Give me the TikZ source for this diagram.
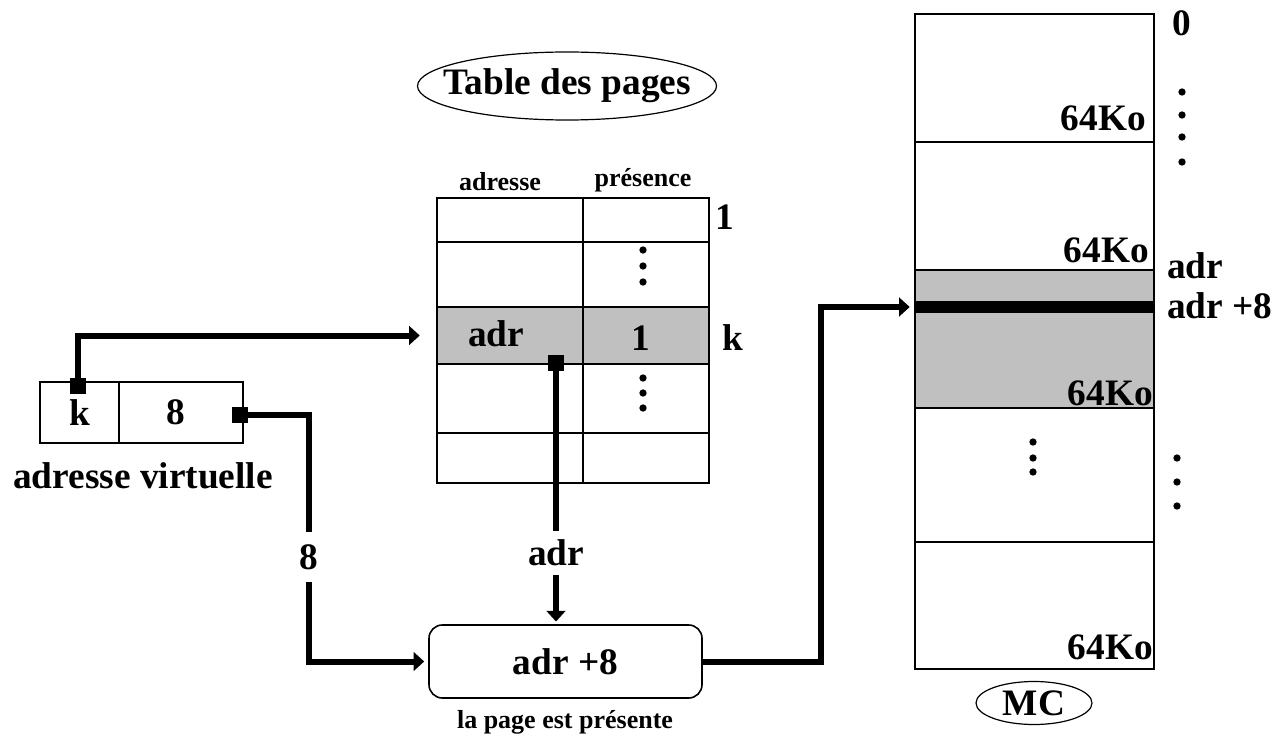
\documentclass[tikz,border=0pt]{standalone}
\usepackage{fontspec}
\setmainfont{Liberation Serif}
\usetikzlibrary{arrows.meta,shapes.geometric,calc}
\definecolor{mygray}{RGB}{192,192,192}
\begin{document}
\begin{tikzpicture}[x=0.75pt,y=-0.75pt,
  thinline/.style={line width=1.2pt},
  conn/.style={line width=4.5pt},
  arr/.style={-{Triangle[length=8pt,width=14pt]}},
  big/.style={font=\bfseries\fontsize{28}{31}\selectfont},
  small/.style={font=\bfseries\fontsize{19.5}{22}\selectfont},
  marker/.style={fill=black, minimum size=12pt, inner sep=0pt},
  dotm/.style={circle, fill=black, inner sep=0pt, minimum size=5.5pt},
  lbl/.style={big, inner sep=0pt}
]
\useasboundingbox (0,0) rectangle (1281,738);

% ---------- title ellipse ----------
\node[ellipse, draw, line width=0.9pt, minimum width=299*0.75pt, minimum height=68*0.75pt,
      inner sep=0pt] (title) at (567,86) {};
\node[lbl] (titletext) at (title.center) {Table des pages};

% ---------- page table ----------
\node[fill=mygray, minimum width=272*0.75pt, minimum height=57*0.75pt, inner sep=0pt] (rowk) at (573,335.5) {};
\draw[thinline] (437,198) rectangle (709,483);
\foreach \yy in {242,307,364,433} \draw[thinline] (437,\yy) -- (709,\yy);
\draw[thinline] (583,198) -- (583,483);
\node[small] (hadr) at (500,182) {adresse};
\node[small] (hpres) at (643,180) {présence};
\node[lbl] (one) at (725,217) {1};
\node[lbl] (kk) at (733,338) {k};
\node[lbl] (tadr) at (496,334) {adr};
\node[lbl] (tone) at (641,338) {1};
\foreach \yy in {250,266,282,378,393,408} \node[dotm] at (643,\yy) {};

% ---------- main memory ----------
\node[fill=mygray, minimum width=239*0.75pt, minimum height=138*0.75pt, inner sep=0pt] (mcg) at (1034.5,339) {};
\draw[thinline] (915,14) rectangle (1154,669);
\foreach \yy in {142,270,408,542} \draw[thinline] (915,\yy) -- (1154,\yy);
\node[fill=black, minimum width=239*0.75pt, minimum height=9.5pt, inner sep=0pt] (bar) at (1034.5,307) {};
\node[lbl, anchor=east] (ko1) at (1146,118) {64Ko};
\node[lbl, anchor=east] (ko2) at (1149,250) {64Ko};
\node[lbl, anchor=east] (ko3) at (1153,393) {64Ko};
\node[lbl, anchor=east] (ko4) at (1153,647) {64Ko};
\node[lbl] (zero) at (1182,23) {0};
\node[lbl, anchor=west] (radr) at (1167,266) {adr};
\node[lbl, anchor=west] (radr8) at (1167,306) {adr +8};
\foreach \yy in {92,115,137,162} \node[dotm] at (1182,\yy) {};
\foreach \yy in {442,458,472} \node[dotm] at (1033,\yy) {};
\foreach \yy in {458,482,506} \node[dotm] at (1177,\yy) {};
\node[ellipse, draw, line width=0.9pt, minimum width=116*0.75pt, minimum height=43*0.75pt,
      inner sep=0pt] (mc) at (1034,703) {};
\node[lbl] (mctext) at (mc.center) {MC};

% ---------- virtual address ----------
\draw[thinline] (40,382) rectangle (243,443);
\draw[thinline] (119,382) -- (119,443);
\node[lbl] (vk) at (80,413) {k};
\node[lbl] (v8) at (176,412) {8};
\node[lbl] (vlab) at (143,476) {adresse virtuelle};

% ---------- sum box ----------
\node[draw, thinline, rounded corners=10pt, minimum width=273*0.75pt, minimum height=73*0.75pt,
      inner sep=0pt, big] (sum) at (565.5,661.5) {adr +8};
\node[small] (pres) at (565,722) {la page est présente};

% ---------- connector labels ----------
\node[lbl, minimum height=49*0.75pt] (l8) at (309,557) {8};
\node[lbl, minimum height=43*0.75pt] (la) at (556,553) {adr};

% ---------- connectors ----------
\coordinate (mkc) at (78,386);
\coordinate (m8c) at (240,415);
\coordinate (mac) at (556,363);
\draw[conn, arr] (mkc) |- ([xshift=-12.75pt]rowk.west);
\draw[conn] (m8c) -| (l8.north);
\draw[conn, arr] (l8.south) |- ([xshift=-3pt]sum.west);
\draw[conn] (mac) -- (la.north);
\draw[conn, arr, shorten >=2pt] (la.south) -- (la.south |- sum.north);
\draw[conn, arr] (sum.east) -- ++(118,0) |- ([xshift=-3.75pt]bar.west);

% ---------- markers ----------
\node[marker] (mk) at (mkc) {};
\node[marker] (m8) at (m8c) {};
\node[marker] (ma) at (mac) {};
\end{tikzpicture}
\end{document}
